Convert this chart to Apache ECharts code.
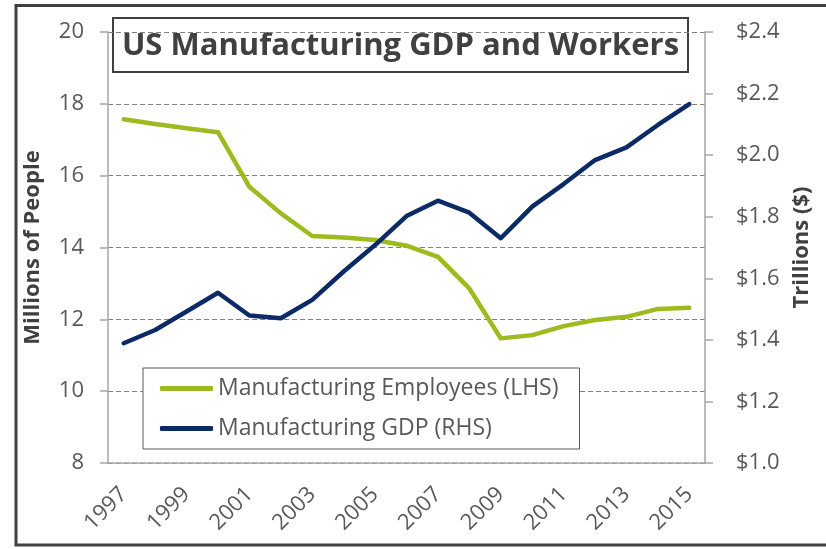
<!DOCTYPE html>
<html>
<head>
<meta charset="utf-8">
<script src="https://cdn.jsdelivr.net/npm/echarts@6/dist/echarts.min.js"></script>
<style>
  html, body { margin: 0; padding: 0; background: #fff; }
  #chart { width: 826px; height: 549px; }
</style>
</head>
<body>
<div id="chart"></div>
<script>
// years on the x axis
var years = ['1997', '1998', '1999', '2000', '2001', '2002', '2003', '2004', '2005', '2006',
  '2007', '2008', '2009', '2010', '2011', '2012', '2013', '2014', '2015'];
// manufacturing employees, millions (left axis)
var employees = [17.57, 17.44, 17.32, 17.21, 15.69, 14.95, 14.32, 14.28, 14.21, 14.05,
  13.74, 12.86, 11.47, 11.56, 11.81, 11.98, 12.07, 12.29, 12.32];
// manufacturing GDP, trillions $ (right axis)
var gdp = [1.389, 1.432, 1.492, 1.553, 1.479, 1.470, 1.530, 1.622, 1.708, 1.802,
  1.852, 1.813, 1.730, 1.833, 1.906, 1.984, 2.025, 2.098, 2.166];

var seriesNames = ['Manufacturing Employees (LHS)', 'Manufacturing GDP (RHS)'];
var titleText = 'US Manufacturing GDP and Workers';

var font = '"Open Sans", sans-serif';
var labelColor = '#595959';
var axisColor = '#a6a6a6';

var myChart = echarts.init(document.getElementById('chart'));
myChart.setOption({
  animation: false,
  grid: { left: 108, right: 121, top: 32, bottom: 86 },
  legend: {
    orient: 'vertical',
    left: 143,
    top: 368,
    data: seriesNames,
    icon: 'roundRect',
    itemWidth: 53,
    itemHeight: 5,
    itemGap: 17,
    padding: [9, 21, 9, 17],
    backgroundColor: '#fff',
    borderColor: '#595959',
    borderWidth: 1,
    textStyle: { fontFamily: font, fontSize: 23, color: labelColor }
  },
  xAxis: {
    type: 'category',
    data: years,
    boundaryGap: true,
    axisLine: { lineStyle: { color: axisColor, width: 1.5 } },
    axisTick: { interval: 1, length: 8, lineStyle: { color: axisColor, width: 1.5 } },
    axisLabel: {
      interval: 1,
      rotate: 45,
      margin: 28,
      color: labelColor,
      fontFamily: font,
      fontSize: 22
    }
  },
  yAxis: [{
    type: 'value',
    min: 8,
    max: 20,
    interval: 2,
    name: 'Millions of People',
    nameLocation: 'middle',
    nameRotate: 90,
    nameGap: 64,
    nameTextStyle: { fontFamily: font, fontSize: 22, fontWeight: 'bold', color: '#404040' },
    axisLine: { show: true, lineStyle: { color: axisColor, width: 1.5 } },
    axisTick: { show: true, length: 8, lineStyle: { color: axisColor, width: 1.5 } },
    axisLabel: { margin: 24, color: labelColor, fontFamily: font, fontSize: 22 },
    splitLine: { lineStyle: { color: '#808080', type: [5, 3], width: 1 } }
  }, {
    type: 'value',
    min: 1.0,
    max: 2.4,
    interval: 0.2,
    name: 'Trillions ($)',
    nameLocation: 'middle',
    nameRotate: 90,
    nameGap: 86,
    nameTextStyle: { fontFamily: font, fontSize: 22, fontWeight: 'bold', color: '#404040' },
    axisLine: { show: true, lineStyle: { color: axisColor, width: 1.5 } },
    axisTick: { show: true, length: 8, lineStyle: { color: axisColor, width: 1.5 } },
    axisLabel: {
      margin: 31,
      color: labelColor,
      fontFamily: font,
      fontSize: 22,
      formatter: function (v) { return '$' + v.toFixed(1); }
    },
    splitLine: { show: false }
  }],
  series: [{
    name: seriesNames[0],
    type: 'line',
    yAxisIndex: 0,
    data: employees,
    symbol: 'none',
    itemStyle: { color: '#9bbb1e' },
    lineStyle: { color: '#9bbb1e', width: 4.5, cap: 'round', join: 'round' }
  }, {
    name: seriesNames[1],
    type: 'line',
    yAxisIndex: 1,
    data: gdp,
    symbol: 'none',
    itemStyle: { color: '#0b2a66' },
    lineStyle: { color: '#0b2a66', width: 4.5, cap: 'round', join: 'round' }
  }],
  graphic: [{
    type: 'group',
    left: 112,
    top: 17,
    z: 100,
    children: [{
      type: 'rect',
      shape: { x: 0, y: 0, width: 575, height: 54 },
      style: { fill: '#fff', stroke: '#404040', lineWidth: 2 }
    }, {
      type: 'text',
      x: 287.5,
      y: 28,
      style: {
        text: titleText,
        fill: '#404040',
        font: 'bold 31px "Open Sans", sans-serif',
        align: 'center',
        verticalAlign: 'middle'
      }
    }]
  }, {
    type: 'rect',
    z: 100,
    shape: { x: 16, y: 5.5, width: 830, height: 539.5 },
    style: { fill: 'none', stroke: '#404040', lineWidth: 3 }
  }]
});
</script>
</body>
</html>
